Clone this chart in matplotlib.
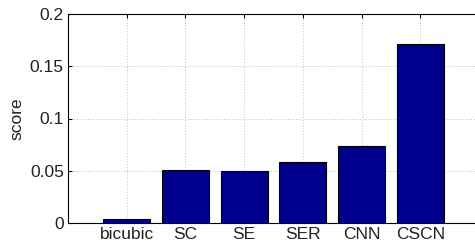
import numpy as np
import matplotlib
matplotlib.use('Agg')
import matplotlib.pyplot as plt

# dane z wykresu
methods = ['bicubic', 'SC', 'SE', 'SER', 'CNN', 'CSCN']
scores = [0.0038, 0.051, 0.050, 0.0587, 0.074, 0.171]

plt.rcParams['font.family'] = ['Liberation Sans', 'DejaVu Sans']

fig = plt.figure(figsize=(4.75, 2.5), dpi=100)
# prawa krawędź osi wychodzi poza obraz, jak w oryginale
ax = fig.add_axes([68/475, 1 - 223/250, 411/475, 209/250])

x = np.arange(1, len(methods) + 1)
ax.bar(x, scores, width=0.8, color='#00008F', edgecolor='black', linewidth=0.8, zorder=3)

ax.set_xlim(0, 7)
ax.set_ylim(0, 0.2)
ax.set_xticks(x)
ax.set_xticklabels(methods)
ax.set_yticks([0, 0.05, 0.1, 0.15, 0.2])
ax.set_yticklabels(['0', '0.05', '0.1', '0.15', '0.2'])
ax.tick_params(direction='in', length=3, labelsize=12.5, pad=3, top=True, right=True,
               labelcolor='#222222')
ax.grid(True, linestyle=(0, (1, 3)), color='gray', linewidth=0.5, zorder=0)
ax.set_ylabel('score', fontsize=12.5, color='#222222', labelpad=4)
for s in ax.spines.values():
    s.set_linewidth(0.8)

fig.savefig('out.png', dpi=100)
